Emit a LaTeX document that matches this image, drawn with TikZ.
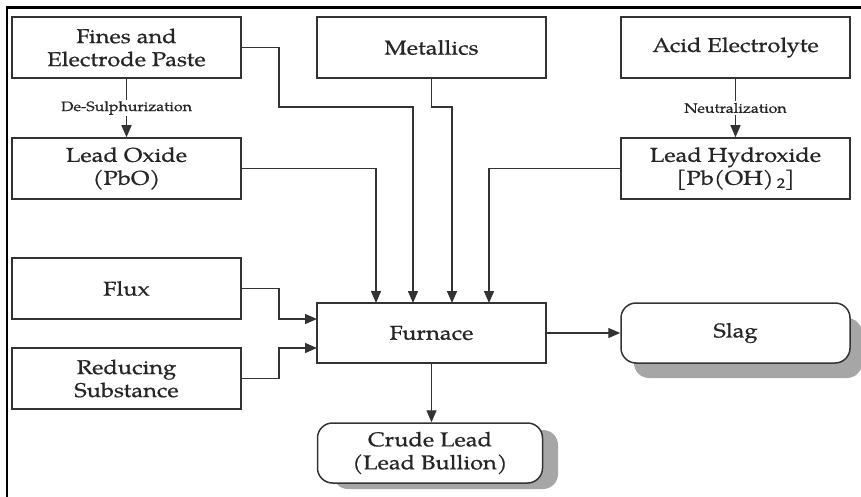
\documentclass[tikz,border=0pt]{standalone}
\usepackage{fontspec}
\setmainfont[FakeStretch=1.18,FakeBold=0.7]{TeX Gyre Pagella}
\usetikzlibrary{arrows.meta,calc}
\definecolor{edge}{HTML}{333333}
\begin{document}
\begin{tikzpicture}[x=1pt,y=-1pt,
  boxst/.style={draw=edge,line width=1.5pt,minimum width=229pt,minimum height=61pt,inner sep=0pt,
     align=center,text=black!85,font=\fontsize{20}{23}\selectfont},
  roundst/.style={draw=edge,line width=1.5pt,fill=white,rounded corners=15pt,minimum height=60pt,inner sep=0pt,
     align=center,text=black!85,font=\fontsize{20}{23}\selectfont},
  arr/.style={draw=edge,line width=1.4pt,-{Triangle[length=12pt,width=10pt]}},
  lbl/.style={fill=white,inner sep=1.5pt,text=black!85,font=\fontsize{13.5}{15}\selectfont}]
\useasboundingbox (0,0) rectangle (861,497);
\fill[white] (0,0) rectangle (861,497);
\draw[line width=2.6pt,black] (7,497) -- (7,7.5) -- (861,7.5);

\node[boxst] (fines) at (126.5,47.5) {Fines and\\Electrode Paste};
\node[boxst] (metal) at (431.5,47.5) {Metallics};
\node[boxst] (acid) at (735.5,47.5) {Acid Electrolyte};
\node[boxst] (oxide) at (126.5,168.5) {Lead Oxide\\(PbO)};
\node[boxst] (hydro) at (735.5,168.5) {Lead Hydroxide\\{}[Pb(OH)\,$_{\mathrm{2}}$]};
\node[boxst] (flux) at (126.5,288.5) {Flux};
\node[boxst] (reduc) at (126.5,378.5) {Reducing\\Substance};
\node[boxst,minimum height=60pt] (furn) at (431.5,333) {Furnace};

\fill[gray!70,rounded corners=15pt] (634,318) rectangle (862,378);
\node[roundst,minimum width=229pt] (slag) at (735.5,333) {Slag};
\fill[gray!70,rounded corners=15pt] (333,430) rectangle (558,489);
\node[roundst,minimum width=225pt] (crude) at (430,453) {Crude Lead\\(Lead Bullion)};

\coordinate (in1) at (376,303);
\coordinate (in2) at (413,303);
\coordinate (in3) at (452,303);
\coordinate (in4) at (489,303);
\coordinate (in5) at (317,319);
\coordinate (in6) at (317,348);
\coordinate (b1) at (279,107);
\coordinate (b2) at (452,107);
\coordinate (b3) at (279,319);
\coordinate (b4) at (279,348);

\draw[arr] (fines.south) -- node[lbl,pos=0.5]{De-Sulphurization} (oxide.north);
\draw[arr] (acid.south) -- node[lbl,pos=0.5]{Neutralization} (hydro.north);
\draw[arr] (fines.east) -| (b1) -| (in2);
\draw[arr] (metal.south) |- (b2) -- (in3);
\draw[arr] (oxide.east) -| (in1);
\draw[arr] (hydro.west) -| (in4);
\draw[arr] (flux.east) -| (b3) -- (in5);
\draw[arr] (reduc.east) -| (b4) -- (in6);
\draw[arr] (furn.east) -- (slag.west);
\draw[arr] (furn.south) -- (furn.south |- crude.north);
\end{tikzpicture}
\end{document}
